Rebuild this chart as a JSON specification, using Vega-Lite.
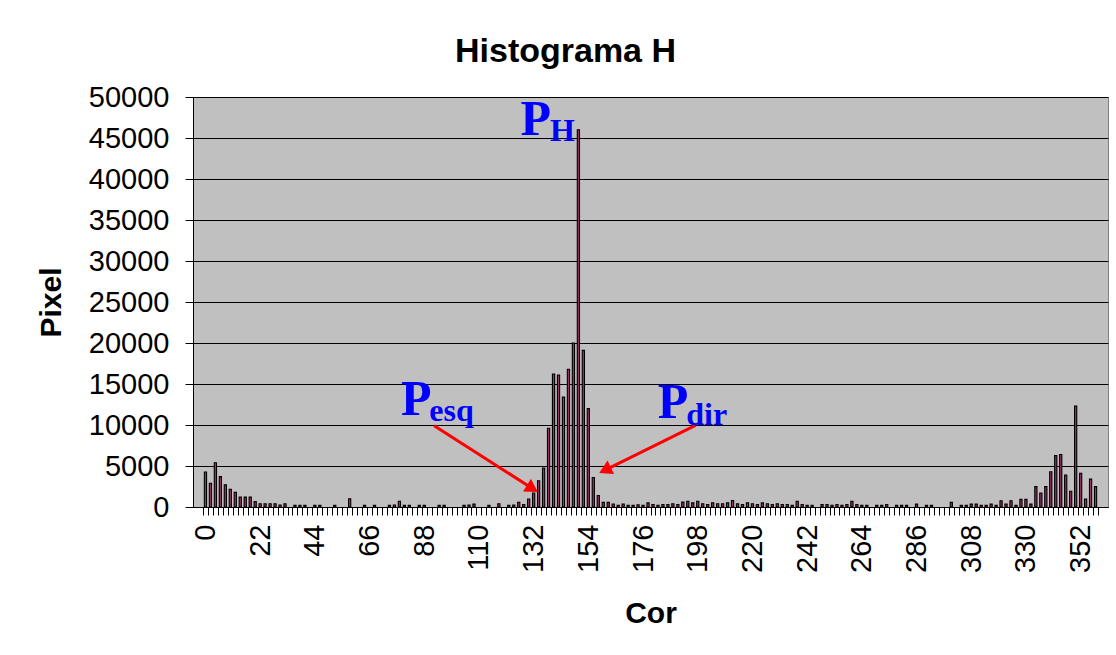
{
  "$schema": "https://vega.github.io/schema/vega-lite/v6.json",
  "width": 915,
  "height": 410,
  "autosize": "none",
  "padding": {"left": 193, "top": 97, "right": 8, "bottom": 148},
  "background": "white",
  "title": {"text": "Histograma H", "fontSize": 34, "font": "Liberation Sans", "fontWeight": "bold", "color": "black", "anchor": "middle", "frame": "group", "dx": -85, "offset": -13, "baseline": "alphabetic"},
  "config": {
    "font": "Liberation Sans",
    "view": {"fill": "#C0C0C0", "stroke": "#808080", "strokeWidth": 1},
    "axis": {"labelColor": "black", "titleColor": "black", "labelFont": "Liberation Sans", "titleFont": "Liberation Sans"}
  },
  "datasets": {
    "hist": [
      {"cor": 0, "pixel": 4250}, {"cor": 2, "pixel": 2900}, {"cor": 4, "pixel": 5400}, {"cor": 6, "pixel": 3700},
      {"cor": 8, "pixel": 2700}, {"cor": 10, "pixel": 2150}, {"cor": 12, "pixel": 1780}, {"cor": 14, "pixel": 1200},
      {"cor": 16, "pixel": 1200}, {"cor": 18, "pixel": 1200}, {"cor": 20, "pixel": 660}, {"cor": 22, "pixel": 400},
      {"cor": 24, "pixel": 400}, {"cor": 26, "pixel": 400}, {"cor": 28, "pixel": 400}, {"cor": 30, "pixel": 250},
      {"cor": 32, "pixel": 400}, {"cor": 36, "pixel": 200}, {"cor": 38, "pixel": 200}, {"cor": 40, "pixel": 200},
      {"cor": 44, "pixel": 200}, {"cor": 46, "pixel": 200}, {"cor": 52, "pixel": 200}, {"cor": 58, "pixel": 1000},
      {"cor": 64, "pixel": 200}, {"cor": 68, "pixel": 200}, {"cor": 74, "pixel": 200}, {"cor": 76, "pixel": 250},
      {"cor": 78, "pixel": 700}, {"cor": 80, "pixel": 200}, {"cor": 82, "pixel": 200}, {"cor": 86, "pixel": 200},
      {"cor": 88, "pixel": 200}, {"cor": 94, "pixel": 200}, {"cor": 96, "pixel": 200}, {"cor": 104, "pixel": 200},
      {"cor": 106, "pixel": 250}, {"cor": 108, "pixel": 350}, {"cor": 114, "pixel": 200}, {"cor": 118, "pixel": 400},
      {"cor": 122, "pixel": 200}, {"cor": 124, "pixel": 250}, {"cor": 126, "pixel": 570}, {"cor": 128, "pixel": 300},
      {"cor": 130, "pixel": 970}, {"cor": 132, "pixel": 1700}, {"cor": 134, "pixel": 3200}, {"cor": 136, "pixel": 4750},
      {"cor": 138, "pixel": 9600}, {"cor": 140, "pixel": 16200}, {"cor": 142, "pixel": 16100}, {"cor": 144, "pixel": 13400},
      {"cor": 146, "pixel": 16800}, {"cor": 148, "pixel": 20000}, {"cor": 150, "pixel": 46000}, {"cor": 152, "pixel": 19100},
      {"cor": 154, "pixel": 12000}, {"cor": 156, "pixel": 3600}, {"cor": 158, "pixel": 1400}, {"cor": 160, "pixel": 570},
      {"cor": 162, "pixel": 570}, {"cor": 164, "pixel": 370}, {"cor": 166, "pixel": 200}, {"cor": 168, "pixel": 370},
      {"cor": 170, "pixel": 200}, {"cor": 172, "pixel": 200}, {"cor": 174, "pixel": 280}, {"cor": 176, "pixel": 200},
      {"cor": 178, "pixel": 500}, {"cor": 180, "pixel": 300}, {"cor": 182, "pixel": 200}, {"cor": 184, "pixel": 300},
      {"cor": 186, "pixel": 300}, {"cor": 188, "pixel": 400}, {"cor": 190, "pixel": 300}, {"cor": 192, "pixel": 600},
      {"cor": 194, "pixel": 700}, {"cor": 196, "pixel": 500}, {"cor": 198, "pixel": 700}, {"cor": 200, "pixel": 400},
      {"cor": 202, "pixel": 300}, {"cor": 204, "pixel": 500}, {"cor": 206, "pixel": 400}, {"cor": 208, "pixel": 400},
      {"cor": 210, "pixel": 500}, {"cor": 212, "pixel": 800}, {"cor": 214, "pixel": 400}, {"cor": 216, "pixel": 300},
      {"cor": 218, "pixel": 500}, {"cor": 220, "pixel": 400}, {"cor": 222, "pixel": 300}, {"cor": 224, "pixel": 500},
      {"cor": 226, "pixel": 400}, {"cor": 228, "pixel": 300}, {"cor": 230, "pixel": 400}, {"cor": 232, "pixel": 300},
      {"cor": 234, "pixel": 300}, {"cor": 236, "pixel": 200}, {"cor": 238, "pixel": 700}, {"cor": 240, "pixel": 300},
      {"cor": 242, "pixel": 200}, {"cor": 244, "pixel": 200}, {"cor": 248, "pixel": 300}, {"cor": 250, "pixel": 300},
      {"cor": 252, "pixel": 200}, {"cor": 254, "pixel": 300}, {"cor": 256, "pixel": 200}, {"cor": 258, "pixel": 300},
      {"cor": 260, "pixel": 700}, {"cor": 262, "pixel": 300}, {"cor": 264, "pixel": 200}, {"cor": 266, "pixel": 200},
      {"cor": 270, "pixel": 200}, {"cor": 272, "pixel": 200}, {"cor": 274, "pixel": 300}, {"cor": 278, "pixel": 200},
      {"cor": 280, "pixel": 200}, {"cor": 282, "pixel": 200}, {"cor": 286, "pixel": 350}, {"cor": 290, "pixel": 200},
      {"cor": 292, "pixel": 200}, {"cor": 300, "pixel": 570}, {"cor": 304, "pixel": 200}, {"cor": 306, "pixel": 200},
      {"cor": 308, "pixel": 350}, {"cor": 310, "pixel": 350}, {"cor": 312, "pixel": 200}, {"cor": 314, "pixel": 200},
      {"cor": 316, "pixel": 350}, {"cor": 318, "pixel": 200}, {"cor": 320, "pixel": 770}, {"cor": 322, "pixel": 350},
      {"cor": 324, "pixel": 770}, {"cor": 326, "pixel": 200}, {"cor": 328, "pixel": 930}, {"cor": 330, "pixel": 930},
      {"cor": 332, "pixel": 350}, {"cor": 334, "pixel": 2480}, {"cor": 336, "pixel": 1700}, {"cor": 338, "pixel": 2480},
      {"cor": 340, "pixel": 4300}, {"cor": 342, "pixel": 6260}, {"cor": 344, "pixel": 6400}, {"cor": 346, "pixel": 3900},
      {"cor": 348, "pixel": 1900}, {"cor": 350, "pixel": 12300}, {"cor": 352, "pixel": 4100}, {"cor": 354, "pixel": 980},
      {"cor": 356, "pixel": 3400}, {"cor": 358, "pixel": 2480}
    ],
    "arrows": [
      {"name": "esq", "x0": 92.0, "y0": 9915, "x1": 131.5, "y1": 2256},
      {"name": "dir", "x0": 197.1, "y0": 9963, "x1": 160.7, "y1": 4500}
    ],
    "labels": [
      {"kind": "big", "t": "P", "x": 126.7, "y": 45370},
      {"kind": "sub", "t": "H", "x": 138.6, "y": 44630},
      {"kind": "big", "t": "P", "x": 78.6, "y": 11220},
      {"kind": "sub", "t": "esq", "x": 90.0, "y": 10490},
      {"kind": "big", "t": "P", "x": 181.9, "y": 10850},
      {"kind": "sub", "t": "dir", "x": 193.4, "y": 10000}
    ]
  },
  "layer": [
    {
      "data": {"name": "hist"},
      "mark": {"type": "bar", "size": 2.2, "fill": "#993366", "stroke": "black", "strokeWidth": 1.1},
      "encoding": {
        "x": {
          "field": "cor", "type": "quantitative",
          "scale": {"domain": [-3, 361], "nice": false, "zero": false},
          "axis": {
            "orient": "bottom", "title": null, "labels": false, "grid": false,
            "values": [-1,1,3,5,7,9,11,13,15,17,19,21,23,25,27,29,31,33,35,37,39,41,43,45,47,49,51,53,55,57,59,61,63,65,67,69,71,73,75,77,79,81,83,85,87,89,91,93,95,97,99,101,103,105,107,109,111,113,115,117,119,121,123,125,127,129,131,133,135,137,139,141,143,145,147,149,151,153,155,157,159,161,163,165,167,169,171,173,175,177,179,181,183,185,187,189,191,193,195,197,199,201,203,205,207,209,211,213,215,217,219,221,223,225,227,229,231,233,235,237,239,241,243,245,247,249,251,253,255,257,259,261,263,265,267,269,271,273,275,277,279,281,283,285,287,289,291,293,295,297,299,301,303,305,307,309,311,313,315,317,319,321,323,325,327,329,331,333,335,337,339,341,343,345,347,349,351,353,355,357,359],
            "ticks": true, "tickSize": 8, "tickColor": "black", "tickWidth": 1,
            "domain": true, "domainColor": "black", "domainWidth": 1
          }
        },
        "y": {
          "field": "pixel", "type": "quantitative",
          "scale": {"domain": [0, 50000], "nice": false},
          "axis": {
            "values": [0, 5000, 10000, 15000, 20000, 25000, 30000, 35000, 40000, 45000, 50000],
            "format": "d", "title": "Pixel", "titleFontSize": 30, "titleFontWeight": "bold", "titlePadding": 22,
            "labelFontSize": 29, "labelPadding": 16,
            "grid": true, "gridColor": "black", "gridOpacity": 1, "gridWidth": 1,
            "tickSize": 8, "tickColor": "black", "domainColor": "black", "domainWidth": 1
          }
        }
      }
    },
    {
      "data": {"name": "arrows"},
      "mark": {"type": "rule", "color": "#FF0000", "strokeWidth": 3},
      "encoding": {
        "x": {
          "field": "x0", "type": "quantitative",
          "axis": {
            "orient": "bottom", "values": [0, 22, 44, 66, 88, 110, 132, 154, 176, 198, 220, 242, 264, 286, 308, 330, 352],
            "labelAngle": 270, "labelFontSize": 29, "labelPadding": 17, "labelOverlap": false,
            "ticks": false, "tickSize": 0, "domain": false, "grid": false,
            "title": "Cor", "titleFontSize": 30, "titleFontWeight": "bold", "titlePadding": 26
          }
        },
        "y": {"field": "y0", "type": "quantitative"},
        "x2": {"field": "x1"},
        "y2": {"field": "y1"}
      }
    },
    {
      "data": {"name": "arrows"},
      "transform": [{"filter": "datum.name == 'esq'"}],
      "mark": {"type": "point", "shape": "triangle-up", "filled": true, "color": "#FF0000", "opacity": 1, "size": 220, "angle": 122},
      "encoding": {
        "x": {"field": "x1", "type": "quantitative", "axis": null},
        "y": {"field": "y1", "type": "quantitative"}
      }
    },
    {
      "data": {"name": "arrows"},
      "transform": [{"filter": "datum.name == 'dir'"}],
      "mark": {"type": "point", "shape": "triangle-up", "filled": true, "color": "#FF0000", "opacity": 1, "size": 220, "angle": 244},
      "encoding": {
        "x": {"field": "x1", "type": "quantitative", "axis": null},
        "y": {"field": "y1", "type": "quantitative"}
      }
    },
    {
      "data": {"name": "labels"},
      "transform": [{"filter": "datum.kind == 'big'"}],
      "mark": {"type": "text", "font": "Liberation Serif", "fontWeight": "bold", "fontSize": 50, "color": "#0000FF", "align": "left", "baseline": "alphabetic"},
      "encoding": {
        "x": {"field": "x", "type": "quantitative", "axis": null},
        "y": {"field": "y", "type": "quantitative"},
        "text": {"field": "t"}
      }
    },
    {
      "data": {"name": "labels"},
      "transform": [{"filter": "datum.kind == 'sub'"}],
      "mark": {"type": "text", "font": "Liberation Serif", "fontWeight": "bold", "fontSize": 32, "color": "#0000FF", "align": "left", "baseline": "alphabetic"},
      "encoding": {
        "x": {"field": "x", "type": "quantitative", "axis": null},
        "y": {"field": "y", "type": "quantitative"},
        "text": {"field": "t"}
      }
    }
  ],
  "resolve": {"axis": {"x": "independent"}}
}
